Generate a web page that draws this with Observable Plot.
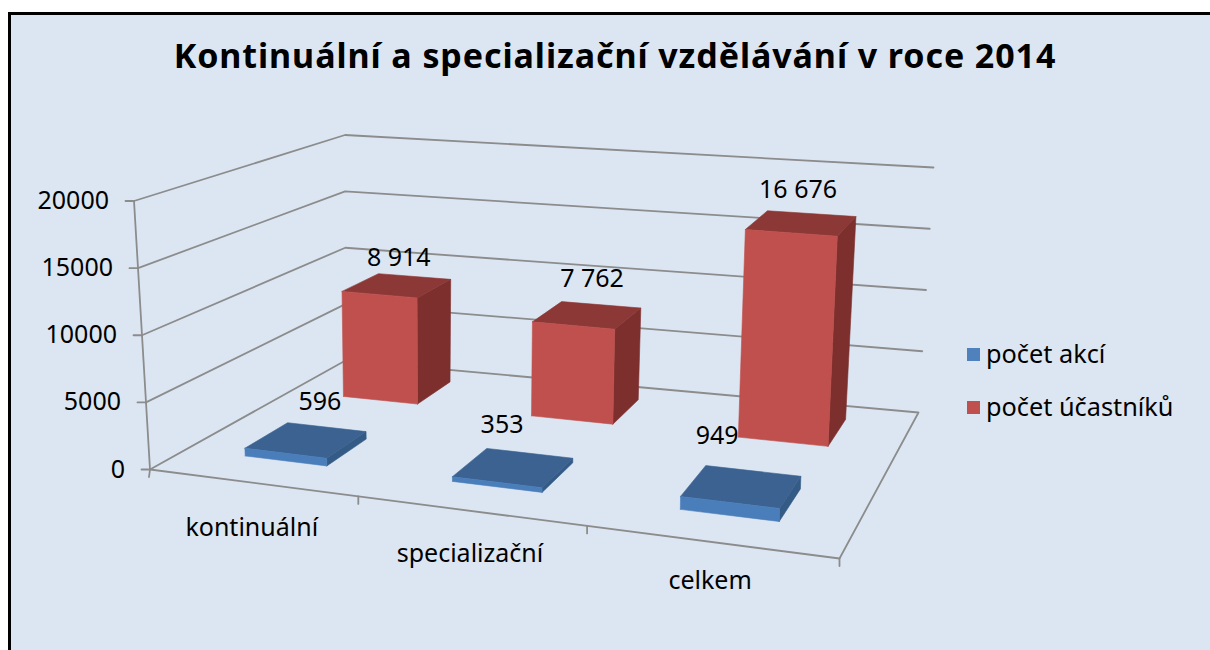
<!DOCTYPE html>
<html lang="cs">
<head>
<meta charset="utf-8">
<script src="https://cdn.jsdelivr.net/npm/d3@7"></script>
<script src="https://cdn.jsdelivr.net/npm/@observablehq/plot@0.6"></script>
<style>
  html, body { margin: 0; padding: 0; background: #fff; width: 1210px; height: 650px; overflow: hidden; }
  body { font-family: "Noto Sans", "Open Sans", sans-serif; color: #000; position: relative; }
  #frame { position: absolute; left: 8px; top: 12px; width: 1300px; height: 800px; background: #dce6f2;
           border-left: 3px solid #000; border-top: 3px solid #000; }
  #title { position: absolute; left: 0; width: 1230px; top: 32px; text-align: center; font-size: 34px; font-weight: 700;
           line-height: 46px; white-space: nowrap; letter-spacing: 0.92px; }
  #chart { position: absolute; left: 0; top: 0; }
  #chart svg { display: block; }
  #legend { position: absolute; left: 967px; top: 329px; font-size: 25.3px; }
  #legend .row { position: relative; height: 53px; line-height: 48px; padding-left: 19px; white-space: nowrap; }
  #legend i { position: absolute; left: 0; top: 19px; width: 13px; height: 13px; }
</style>
</head>
<body>
<div id="frame"></div>
<div id="chart"></div>
<div id="title">Kontinuální a specializační vzdělávání v roce 2014</div>
<div id="legend"></div>
<script>
// ---- data ----
const categories = ["kontinuální", "specializační", "celkem"];
const seriesNames = ["počet akcí", "počet účastníků"];
const pocetAkci = [596, 353, 949];
const pocetUcastniku = [8914, 7762, 16676];
const valueTicks = [0, 5000, 10000, 15000, 20000];
const valueMax = 20000;

// ---- 3D scene: where the box of the chart sits, and how bars fill it ----
const corners = {
  floorFrontLeft: [149.5, 469], floorFrontRight: [839, 558], floorBackLeft: [345, 360], floorBackRight: [918, 412],
  topFrontLeft: [133.5, 200.5], topFrontRight: [848, 266], topBackLeft: [344.5, 134.5], topBackRight: [933, 167]
};
const foreshorten = 1.155;           // perspective along the category axis
const barHalfWidth = 0.0675;         // in category-axis units
const barHeightFit = 0.985;          // bars sit slightly inside the wall's scale under the perspective
const rowDepth = [[0.19, 0.42], [0.72, 0.91]];  // front and back of each series row
const palette = [
  {front: "#4a7ebb", top: "#3b6290", side: "#345a86"},
  {front: "#c0504d", top: "#8c3836", side: "#7c2f2d"}
];
const gridColor = "#8c8c8c";
const labelOffsets = [
  [[14, -38], [-11, -43], [-24, -51]],
  [[2, -28], [5, -36], [-3, -33]]
];
const categoryLabelDrop = [45, 43, 39];

const lerp = (a, b, t) => a + (b - a) * t;
const warp = u => u / (u + (1 - u) * foreshorten);
function project(u, v, w) {
  const t = warp(u), h = w / valueMax, c = corners;
  const point = i => lerp(
    lerp(lerp(c.floorFrontLeft[i], c.floorFrontRight[i], t), lerp(c.floorBackLeft[i], c.floorBackRight[i], t), v),
    lerp(lerp(c.topFrontLeft[i], c.topFrontRight[i], t), lerp(c.topBackLeft[i], c.topBackRight[i], t), v),
    h);
  return {x: point(0), y: point(1)};
}

// grid, box and ticks
const gridRows = [];
let gid = 0;
function path(points) { const id = gid++; points.forEach(p => gridRows.push({...p, id})); }
function tickLeft(p) { path([{x: p.x - 8.5, y: p.y}, p]); }
for (const w of valueTicks) {
  if (w > 0) path([project(0, 0, w), project(0, 1, w), project(1, 1, w)]);
  tickLeft(project(0, 0, w));
}
path([project(0, 0, 0), project(0, 0, valueMax)]);
path([project(0, 0, 0), project(1, 0, 0), project(1, 1, 0), project(0, 1, 0), project(0, 0, 0)]);
for (let i = 0; i <= categories.length; i++) {
  const p = project(i / categories.length, 0, 0);
  path([p, {x: p.x - (i === 0 ? 1 : 0), y: p.y + 7.5}]);
}

// bars as faces, one table per colour
const faces = {};
let fid = 0;
function face(color, pts) {
  const id = fid++;
  (faces[color] ||= []);
  [...pts, pts[0]].forEach(p => faces[color].push({...p, id}));
}
const barLabels = [];
function bar(s, i, value) {
  const uc = (i + 0.5) / categories.length;
  const u0 = uc - barHalfWidth, u1 = uc + barHalfWidth;
  const [v0, v1] = rowDepth[s];
  const col = palette[s];
  const h = value * barHeightFit;
  face(col.side,  [project(u1, v0, 0), project(u1, v1, 0), project(u1, v1, h), project(u1, v0, h)]);
  face(col.top,   [project(u0, v0, h), project(u1, v0, h), project(u1, v1, h), project(u0, v1, h)]);
  face(col.front, [project(u0, v0, 0), project(u1, v0, 0), project(u1, v0, h), project(u0, v0, h)]);
  const top = project(uc, (v0 + v1) / 2, h);
  barLabels.push({x: top.x + labelOffsets[s][i][0], y: top.y + labelOffsets[s][i][1], text: d3.format(",")(value).replace(/,/g, " ")});
}
[pocetUcastniku, pocetAkci].forEach((vals, k) => vals.forEach((v, i) => bar(1 - k, i, v)));

const valueLabels = valueTicks.map(w => {
  const p = project(0, 0, w);
  return {x: p.x - 25, y: p.y, text: String(w)};
});
const categoryLabels = categories.map((name, i) => {
  const p = project((i + 0.5) / categories.length, 0, 0);
  return {x: p.x, y: p.y + categoryLabelDrop[i], text: name};
});

const font = {fontFamily: '"Noto Sans", "Open Sans", sans-serif', fontSize: 25, fill: "#000"};
const chart = Plot.plot({
  width: 1210, height: 650, margin: 0,
  x: {domain: [0, 1210], range: [0, 1210], axis: null},
  y: {domain: [0, 650], range: [0, 650], axis: null},
  style: {background: "transparent"},
  marks: [
    Plot.line(gridRows, {x: "x", y: "y", z: "id", stroke: gridColor, strokeWidth: 1.8, curve: "linear"}),
    ...Object.entries(faces).map(([color, rows]) =>
      Plot.line(rows, {x: "x", y: "y", z: "id", fill: color, stroke: color, strokeWidth: 0.6, curve: "linear"})),
    Plot.text(valueLabels, {x: "x", y: "y", text: "text", textAnchor: "end", ...font}),
    Plot.text(categoryLabels, {x: "x", y: "y", text: "text", ...font}),
    Plot.text(barLabels, {x: "x", y: "y", text: "text", ...font})
  ]
});
document.getElementById("chart").append(chart);

const legend = document.getElementById("legend");
seriesNames.forEach((name, s) => {
  const row = document.createElement("div");
  row.className = "row";
  const swatch = document.createElement("i");
  swatch.style.background = s === 0 ? "#4f81bd" : palette[1].front;
  row.append(swatch, name);
  legend.append(row);
});
</script>
</body>
</html>
